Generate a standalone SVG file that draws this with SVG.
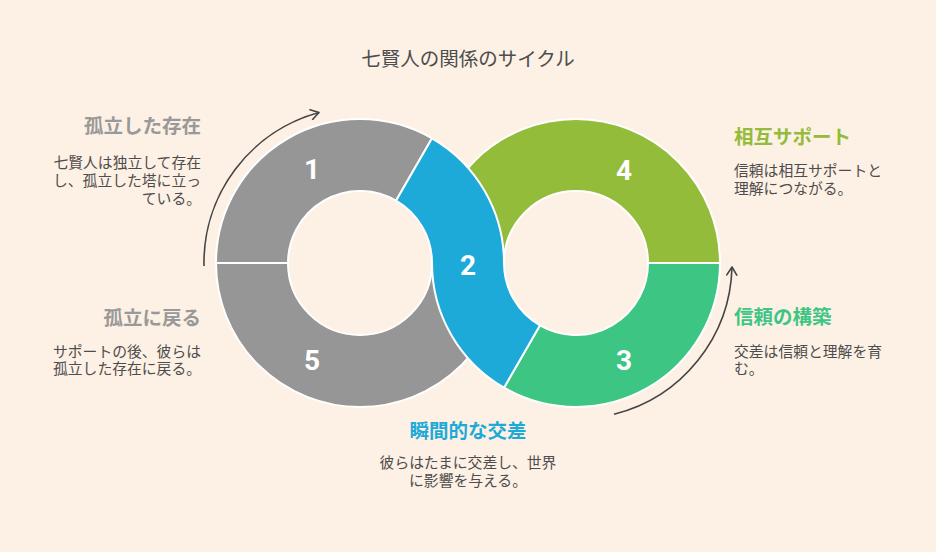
<svg xmlns="http://www.w3.org/2000/svg" width="936" height="552" viewBox="0 0 936 552">
<style>
.seg{stroke:#ffffff;stroke-width:2;stroke-linejoin:round}
.num{font-family:Roboto,"Liberation Sans",sans-serif;font-weight:bold;font-size:28px;fill:#ffffff;text-anchor:middle}
.title{font-family:"Noto Sans CJK JP","Noto Sans",sans-serif;font-size:19.5px;fill:#4d4d4d;text-anchor:middle}
.head{font-family:"Noto Sans CJK JP","Noto Sans",sans-serif;font-size:19.5px;font-weight:bold}
.body{font-family:"Noto Sans CJK JP","Noto Sans",sans-serif;font-size:14.8px;fill:#4d4d4d}
.arc{fill:none;stroke:#444444;stroke-width:1.6}
</style>
<defs>
<marker id="ah" viewBox="0 0 12 12" refX="10" refY="6" markerWidth="12" markerHeight="12" markerUnits="userSpaceOnUse" orient="auto">
<path d="M2,1 L10,6 L2,11" fill="none" stroke="#444444" stroke-width="1.6" stroke-linecap="round" stroke-linejoin="round"/>
</marker>
</defs>
<rect width="936" height="552" fill="#fdf0e4"/>
<text class="title" x="468" y="66">七賢人の関係のサイクル</text>

<g id="connectors">
<path class="arc" d="M204,266 A156,156 0 0 1 319,112.5" marker-end="url(#ah)"/>
<path class="arc" d="M614,414.3 A156,156 0 0 0 732,267" marker-end="url(#ah)"/>
</g>

<g id="node5">
<path class="seg" fill="#969696" d="M504,263 A144,144 0 0 1 216,263 L288,263 A72,72 0 0 0 432,263 Z"/>
</g>
<g id="node4">
<path class="seg" fill="#93bc3a" d="M432,263 A144,144 0 0 1 720,263 L648,263 A72,72 0 0 0 504,263 Z"/>
</g>
<g id="node3">
<path class="seg" fill="#3dc584" d="M720,263 A144,144 0 0 1 504,387.71 L540,325.35 A72,72 0 0 0 648,263 Z"/>
</g>
<g id="node1">
<path class="seg" fill="#969696" d="M216,263 A144,144 0 0 1 432,138.29 L396,200.65 A72,72 0 0 0 288,263 Z"/>
</g>
<g id="node2">
<path class="seg" fill="#1eaad8" d="M432,138.29 A144,144 0 0 1 504,263 A72,72 0 0 0 540,325.35 L504,387.71 A144,144 0 0 1 432,263 A72,72 0 0 0 396,200.65 Z"/>
</g>

<g id="numbers">
<text class="num" x="312" y="179">1</text>
<text class="num" x="468" y="275">2</text>
<text class="num" x="624" y="370">3</text>
<text class="num" x="624" y="180">4</text>
<text class="num" x="312" y="370">5</text>
</g>

<g id="label1">
<text class="head" x="201" y="133" fill="#999999" text-anchor="end">孤立した存在</text>
<text class="body" x="201" y="168" text-anchor="end">七賢人は独立して存在</text>
<text class="body" x="201" y="186" text-anchor="end">し、孤立した塔に立っ</text>
<text class="body" x="201" y="204" text-anchor="end">ている。</text>
</g>
<g id="label5">
<text class="head" x="201" y="325" fill="#999999" text-anchor="end">孤立に戻る</text>
<text class="body" x="53" y="357">サポートの後、彼らは</text>
<text class="body" x="53" y="374">孤立した存在に戻る。</text>
</g>
<g id="label4">
<text class="head" x="734" y="144" fill="#93bc3a">相互サポート</text>
<text class="body" x="734" y="176">信頼は相互サポートと</text>
<text class="body" x="734" y="194">理解につながる。</text>
</g>
<g id="label3">
<text class="head" x="734" y="324" fill="#3dc584">信頼の構築</text>
<text class="body" x="734" y="357">交差は信頼と理解を育</text>
<text class="body" x="734" y="374">む。</text>
</g>
<g id="label2">
<text class="head" x="468" y="438" fill="#1eaad8" text-anchor="middle">瞬間的な交差</text>
<text class="body" x="468" y="468" text-anchor="middle">彼らはたまに交差し、世界</text>
<text class="body" x="468" y="486" text-anchor="middle">に影響を与える。</text>
</g>
</svg>
